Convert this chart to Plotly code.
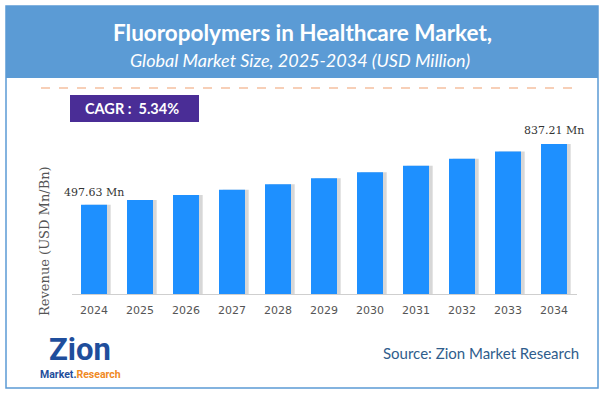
import plotly.graph_objects as go

W, H = 605, 397

years = ["2024", "2025", "2026", "2027", "2028", "2029", "2030", "2031", "2032", "2033", "2034"]
revenue = [497.63, 524.2, 552.2, 581.7, 612.8, 645.5, 680.0, 716.3, 754.5, 794.8, 837.21]
first_label = "497.63 Mn"
last_label = "837.21 Mn"
title = "Fluoropolymers in Healthcare Market,"
subtitle = "Global Market Size, 2025-2034 (USD Million)"
cagr_text = "CAGR :  5.34%"
y_title = "Revenue (USD Mn/Bn)"
source_text = "Source: Zion Market Research"


def px(x):
    return x / W


def py(y):
    return 1 - y / H


BAR_W = 0.565
BLUE = "#1e90ff"
HEADER = "#5b9bd5"

fig = go.Figure()
# soft shadow
fig.add_trace(go.Bar(x=years, y=revenue, width=BAR_W, offset=-BAR_W / 2 + 0.08,
                     marker=dict(color="rgba(110,110,110,0.28)", line=dict(width=0)),
                     hoverinfo="skip", showlegend=False))
fig.add_trace(go.Bar(x=years, y=revenue, width=BAR_W, offset=-BAR_W / 2,
                     marker=dict(color=BLUE, line=dict(width=0)),
                     showlegend=False))

base_y = 294
top_y = 120
scale = 150 / 837.21
ymax = (base_y - top_y) / scale

fig.update_layout(
    width=W, height=H,
    margin=dict(l=0, r=0, t=0, b=0),
    paper_bgcolor="white", plot_bgcolor="white",
    barmode="overlay",
    xaxis=dict(type="category", domain=[px(72), px(577)], range=[-22 / 46, 10 + 23 / 46],
               showgrid=False, zeroline=False, showline=True, linecolor="#cfcfcf", linewidth=1,
               ticks="", ticklabelstandoff=6,
               tickfont=dict(family="DejaVu Sans", size=11, color="#555555"),
               fixedrange=True),
    yaxis=dict(domain=[py(base_y), py(top_y)], range=[0, ymax], visible=False, fixedrange=True),
)

shapes = []
# header band
shapes.append(dict(type="rect", xref="paper", yref="paper", x0=px(6), x1=px(598), y0=py(78), y1=py(6),
                   fillcolor=HEADER, line=dict(width=0), layer="below"))
# border
shapes.append(dict(type="rect", xref="paper", yref="paper", x0=px(6), x1=px(598), y0=py(388), y1=py(6),
                   fillcolor="rgba(0,0,0,0)", line=dict(color=HEADER, width=1.5)))
# dashed line
shapes.append(dict(type="line", xref="paper", yref="paper", x0=px(41), x1=px(581), y0=py(88), y1=py(88),
                   line=dict(color="#f0a070", width=1.2, dash="dash")))
# CAGR box
shapes.append(dict(type="rect", xref="paper", yref="paper", x0=px(70), x1=px(199), y0=py(122), y1=py(95),
                   fillcolor="#4a2d96", line=dict(width=0)))
fig.update_layout(shapes=shapes)

ann = []
ann.append(dict(text="<b>" + title + "</b>", x=px(302), y=py(33), xref="paper", yref="paper",
                showarrow=False, xanchor="center", yanchor="middle",
                font=dict(family="Lato", size=22.5, color="white")))
ann.append(dict(text="<i>" + subtitle + "</i>", x=px(300), y=py(60), xref="paper", yref="paper",
                showarrow=False, xanchor="center", yanchor="middle",
                font=dict(family="Lato", size=18, color="white")))
ann.append(dict(text="<b>" + cagr_text + "</b>", x=px(132), y=py(108), xref="paper", yref="paper",
                showarrow=False, xanchor="center", yanchor="middle",
                font=dict(family="Lato", size=14.5, color="white")))
ann.append(dict(text=first_label, x=0, y=revenue[0], xref="x", yref="y",
                showarrow=False, xanchor="center", yanchor="bottom", yshift=4,
                font=dict(family="DejaVu Serif", size=11, color="#333333")))
ann.append(dict(text=last_label, x=len(years) - 1, y=revenue[-1], xref="x", yref="y",
                showarrow=False, xanchor="center", yanchor="bottom", yshift=5,
                font=dict(family="DejaVu Serif", size=11, color="#333333")))
ann.append(dict(text=y_title, x=px(44), y=py(241), xref="paper", yref="paper", textangle=-90,
                showarrow=False, xanchor="center", yanchor="middle",
                font=dict(family="DejaVu Serif", size=13, color="#555555")))
ann.append(dict(text=source_text, x=px(581), y=py(353), xref="paper", yref="paper",
                showarrow=False, xanchor="right", yanchor="middle",
                font=dict(family="Lato", size=15, color="#2f5d8c")))
# logo as text
ann.append(dict(text="<b>Zion</b>", x=px(80), y=py(349), xref="paper", yref="paper",
                showarrow=False, xanchor="center", yanchor="middle",
                font=dict(family="Roboto", size=31, color="#1f4e9c")))
ann.append(dict(text="<b><span style='color:#1f4e9c'>Market.</span><span style='color:#f08a24'>Research</span></b>",
                x=px(80), y=py(374), xref="paper", yref="paper",
                showarrow=False, xanchor="center", yanchor="middle",
                font=dict(family="Roboto", size=10.5, color="#1f4e9c")))
fig.update_layout(annotations=ann)

fig.write_html("out.html", config={"displayModeBar": False},
               post_script="document.body.style.margin='0';document.body.style.overflow='hidden';")
